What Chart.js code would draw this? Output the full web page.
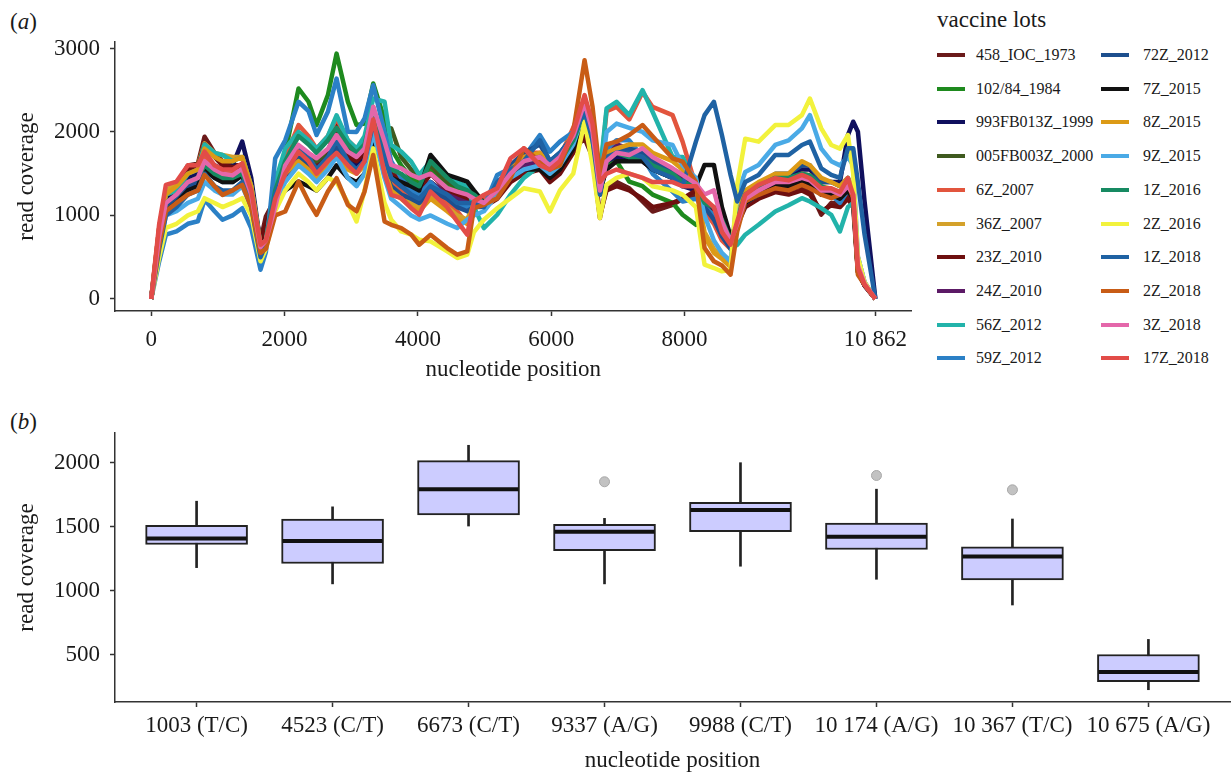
<!DOCTYPE html>
<html>
<head>
<meta charset="utf-8">
<script src="https://cdn.jsdelivr.net/npm/chart.js@4.4.1/dist/chart.umd.min.js"></script>
<style>
  body { margin: 0; width: 1231px; height: 776px; background: #fff; position: relative; overflow: hidden;
         font-family: 'Liberation Serif', 'Times New Roman', serif; color: #1a1a1a; }
  .tag { position: absolute; font-size: 23px; line-height: 23px; }
  #wrapA { position: absolute; left: 0; top: 0; width: 917px; height: 400px; }
  #wrapB { position: absolute; left: 0; top: 400px; width: 1231px; height: 376px; }
  #legTitle { position: absolute; left: 937px; top: 8px; font-size: 23px; line-height: 24px; }
  .item { position: absolute; height: 20px; font-size: 16px; line-height: 20px; white-space: nowrap; }
  .item i { position: absolute; left: 0; top: 8px; width: 28px; height: 4px; }
  .item span { position: absolute; top: 0; }
</style>
</head>
<body>
<div class="tag" style="left:10px; top:10px;">(<i>a</i>)</div>
<div class="tag" style="left:10px; top:410px;">(<i>b</i>)</div>
<div id="wrapA"><canvas id="chartA"></canvas></div>
<div id="legTitle">vaccine lots</div>
<div id="legend"></div>
<div id="wrapB"><canvas id="chartB"></canvas></div>
<script>
const positions = [0,120,220,380,550,700,800,950,1070,1220,
  1365,1500,1640,1720,1860,2010,2210,2360,2480,2650,
  2780,2950,3080,3200,3330,3500,3600,3750,3900,4020,
  4190,4440,4590,4740,4840,4990,5190,5390,5590,5830,
  5980,6130,6330,6500,6620,6730,6830,6980,7170,7370,
  7520,7820,7970,8170,8300,8440,8560,8690,8790,8910,
  9110,9360,9560,9760,9880,10050,10200,10330,10450,10530,
  10600,10700,10862];
const xTicksA = [0, 2000, 4000, 6000, 8000, 10862];
const yTicksA = [0, 1000, 2000, 3000];

const lot458 = [0,850,1300,1350,1600,1620,1943,1750,1650,1600,
  1600,1300,700,988,1200,1500,1800,1700,1600,1750,
  2100,1750,1700,1800,2200,1750,1500,1450,1400,1350,
  1550,1350,1300,1250,1250,1150,1250,1450,1550,1600,
  1450,1550,1800,1924,1700,968,1350,1400,1326,1167,
  1047,1127,1200,1250,1100,1000,800,650,900,1150,
  1250,1300,1300,1350,1300,1010,1150,1150,1250,1150,
  330,160,0];
const lot102 = [0,700,1150,1250,1450,1480,1650,1500,1450,1450,
  1550,1250,600,700,1350,1750,2521,2362,2083,2441,
  2939,2362,2083,2100,2581,2150,1800,1600,1450,1400,
  1550,1380,1300,1250,1200,1150,1350,1500,1600,1650,
  1500,1600,1900,2300,1900,1250,1600,1650,1406,1350,
  1250,1150,1008,888,1000,950,800,700,950,1200,
  1300,1400,1380,1450,1420,1300,1280,1250,1350,1300,
  400,180,0];
const lot993 = [0,750,1200,1300,1450,1500,1700,1600,1550,1600,
  1884,1450,650,700,1250,1550,1750,1650,1550,1700,
  1850,1650,1600,1700,2100,1650,1450,1400,1300,1250,
  1400,1250,1200,1150,1150,1100,1300,1500,1600,1700,
  1550,1650,1900,2200,1900,1250,1650,1700,1700,1650,
  1550,1450,1350,1300,1100,1000,800,600,900,1200,
  1300,1450,1450,1550,1550,1400,1400,1400,1963,2123,
  2003,1167,0];
const lot005 = [0,700,1100,1200,1400,1450,1650,1550,1500,1500,
  1550,1250,620,700,1200,1500,1800,1700,1650,1750,
  1950,1800,1750,1850,2250,1900,2043,1700,1550,1450,
  1600,1400,1350,1300,1250,1150,1300,1500,1600,1650,
  1550,1650,1900,2250,1950,1300,1650,1750,1700,1700,
  1600,1500,1400,1350,1150,1050,850,650,900,1150,
  1280,1380,1370,1420,1400,1280,1280,1230,1330,1230,
  350,170,0];
const lot6Z = [0,850,1300,1350,1550,1580,1700,1550,1500,1500,
  1580,1250,600,680,1400,1700,2083,1950,1800,1950,
  2162,1900,1800,1900,2300,1800,1400,1300,1200,1150,
  1300,1150,1050,900,1200,1200,1300,1600,1750,1750,
  1600,1700,2050,2400,2100,1450,2250,2300,2150,2480,
  2300,2202,1884,1350,1050,900,700,600,950,1200,
  1300,1400,1380,1450,1400,1300,1300,1250,1400,1250,
  350,170,0];
const lot36Z = [0,850,1300,1380,1550,1600,1864,1750,1724,1700,
  1700,1350,650,700,1250,1550,1700,1600,1500,1650,
  1800,1600,1550,1650,2050,1600,1350,1250,1150,1100,
  1250,1100,1000,950,1150,1150,1300,1550,1700,1700,
  1550,1650,1950,2300,2000,1350,1700,1750,1750,1750,
  1650,1550,1500,1350,800,600,500,400,880,1200,
  1300,1420,1420,1500,1480,1350,1320,1280,1380,1250,
  320,170,0];
const lot23Z = [0,800,1250,1300,1550,1580,1850,1700,1600,1580,
  1580,1280,680,900,1150,1450,1750,1650,1550,1700,
  2000,1700,1650,1750,2150,1700,1480,1420,1350,1300,
  1500,1300,1250,1200,1200,1100,1200,1400,1500,1550,
  1400,1500,1750,1950,1750,1000,1300,1350,1300,1200,
  1100,1150,1200,1300,1150,1050,820,680,880,1100,
  1200,1280,1250,1300,1250,1050,1120,1100,1200,1100,
  320,160,0];
const lot24Z = [0,700,1100,1200,1350,1400,1600,1500,1450,1450,
  1500,1200,600,680,1150,1450,1700,1600,1500,1650,
  1800,1600,1550,1650,2050,1650,1450,1350,1300,1250,
  1400,1250,1200,1150,1150,1100,1250,1450,1600,1650,
  1550,1650,1900,2250,1950,1300,1700,1850,1800,1750,
  1650,1550,1450,1400,1167,1087,850,650,880,1150,
  1250,1350,1330,1400,1380,1250,1250,1200,1300,1200,
  330,160,0];
const lot56Z = [0,800,1250,1300,1500,1550,1850,1750,1724,1650,
  1700,1350,650,700,1400,1800,2000,1900,1800,1950,
  2200,1900,1800,1950,2400,2362,1844,1764,1645,1485,
  1650,1485,1400,1350,1100,848,1008,1250,1450,1600,
  1500,1650,1900,2300,2000,1500,2282,2362,2202,2501,
  2242,1700,1700,1350,1100,1000,800,600,649,769,
  888,1047,1123,1207,1167,1087,1008,808,1100,1150,
  400,180,0];
const lot59Z = [0,450,770,810,900,930,1187,1050,948,1000,
  1087,850,350,560,1684,1900,2362,2250,1963,2242,
  2640,2003,2000,2162,2560,2000,1650,1450,1300,1250,
  1400,1200,1150,1100,1150,1100,1485,1565,1700,1963,
  1764,1884,2000,2162,1900,1300,1800,1900,1900,1700,
  1500,1286,1167,1200,1100,1000,750,700,900,1150,
  1250,1350,1350,1400,1400,1300,1250,1150,1300,1250,
  500,200,0];
const lot72Z = [0,700,1100,1200,1350,1400,1550,1450,1400,1400,
  1480,1150,550,650,1200,1500,1700,1600,1500,1650,
  1800,1600,1550,1650,2000,1550,1350,1250,1200,1150,
  1300,1200,1100,1050,1100,1100,1350,1600,1750,1850,
  1650,1750,1950,2200,1900,1250,1700,1800,1800,1750,
  1650,1500,1400,1350,1100,950,750,600,900,1200,
  1350,1500,1500,1600,1600,1400,1400,1350,1450,1300,
  380,180,0];
const lot7Z = [0,650,1050,1150,1300,1350,1550,1450,1400,1400,
  1480,1200,580,650,1150,1300,1406,1350,1300,1450,
  1600,1450,1400,1500,1900,1550,1450,1400,1350,1300,
  1724,1485,1446,1406,1300,1150,1250,1450,1550,1550,
  1450,1550,1800,2200,1900,1300,1550,1650,1650,1650,
  1550,1450,1400,1350,1605,1605,1100,750,900,1150,
  1250,1350,1350,1400,1380,1250,1250,1200,1300,1200,
  350,170,0];
const lot8Z = [0,820,1250,1350,1500,1550,1800,1700,1650,1650,
  1700,1350,640,700,1200,1500,1650,1550,1450,1600,
  1700,1550,1500,1600,2000,1550,1300,1200,1100,1050,
  1200,1050,950,900,1150,1150,1300,1550,1700,1750,
  1600,1700,2000,2350,2050,1400,1750,1800,1850,1850,
  1750,1650,1550,1380,750,550,480,380,1000,1300,
  1400,1500,1500,1650,1600,1450,1400,1350,1450,1300,
  330,170,0];
const lot9Z = [0,600,1000,1050,1150,1200,1400,1300,1250,1250,
  1350,1100,550,620,1150,1400,1600,1500,1400,1550,
  1700,1450,1350,1500,2000,1450,1200,1100,1000,950,
  1000,900,850,950,1000,1050,1250,1450,1550,1600,
  1500,1600,1850,2250,1900,1350,2000,2100,2050,2000,
  1900,1844,1600,1450,1000,700,550,450,1250,1521,
  1605,1844,1900,2043,2202,1800,1650,1600,1700,1600,
  500,200,0];
const lot1Z16 = [0,750,1150,1250,1400,1450,1600,1500,1450,1450,
  1500,1200,600,680,1300,1650,1950,1850,1750,1900,
  2050,1850,1750,1850,2250,1800,1550,1500,1400,1350,
  1650,1450,1350,1300,1250,1150,1300,1500,1650,1700,
  1550,1650,1900,2250,1950,1300,1650,1750,1700,1700,
  1600,1500,1400,1350,1150,1100,950,700,950,1250,
  1350,1450,1450,1500,1480,1350,1300,1250,1380,1250,
  340,170,0];
const lot2Z16 = [0,500,850,900,1000,1050,1207,1150,1100,1150,
  1207,1000,450,600,1050,1300,1500,1400,1300,1450,
  1400,1150,928,1300,1804,1150,950,808,769,709,
  689,570,490,530,800,950,1087,1207,1326,1286,
  1047,1300,1500,2123,1600,968,1366,1450,1500,1450,
  1350,1300,1250,1100,410,370,330,350,1366,1920,
  1884,2083,2083,2202,2401,2043,1844,1800,1963,1500,
  500,200,0];
const lot1Z18 = [0,600,1000,1100,1250,1300,1500,1350,1300,1300,
  1400,1100,500,650,1250,1550,1800,1700,1550,1700,
  1900,1650,1550,1650,2100,1700,1450,1350,1250,1200,
  1350,1250,1150,1150,1150,1100,1400,1550,1650,1900,
  1650,1750,1950,2250,1900,1250,1700,1750,1750,1700,
  1550,1450,1350,1884,2202,2362,1963,1485,1167,1400,
  1485,1724,1724,1844,1884,1565,1485,1450,1804,1804,
  1400,769,0];
const lot2Z18 = [0,650,1050,1150,1250,1300,1485,1350,1246,1300,
  1366,1100,550,600,1000,1047,1406,1167,1008,1286,
  1446,1127,1050,1286,1724,928,888,848,769,649,
  769,609,530,570,1087,1127,1207,1450,1804,1650,
  1550,1600,2000,2860,2300,1500,1850,1884,1963,2083,
  1950,1685,1645,1400,609,450,400,290,809,1167,
  1247,1326,1300,1366,1326,1250,1207,1250,1400,1200,
  290,171,0];
const lot3Z = [0,750,1150,1250,1400,1450,1650,1550,1500,1480,
  1560,1250,620,700,1100,1600,1844,1750,1685,1800,
  1963,1764,1700,1800,2302,1884,1605,1565,1485,1446,
  1500,1326,1286,1250,1200,1150,1300,1500,1650,1700,
  1600,1700,1950,2350,2000,1300,1650,1750,1724,1804,
  1700,1565,1485,1380,1250,1300,928,689,900,1200,
  1300,1400,1400,1450,1420,1300,1300,1250,1350,1250,
  400,180,0];
const lot17Z = [0,900,1366,1406,1600,1600,1764,1600,1550,1550,
  1625,1300,650,700,1200,1500,1764,1650,1500,1650,
  1750,1600,1500,1650,2150,1500,1246,1207,1087,1008,
  1286,1100,928,769,1167,1246,1326,1685,1804,1600,
  1550,1650,2000,2441,2100,1400,1500,1550,1500,1450,
  1400,1400,1350,1350,1200,1100,800,650,928,1247,
  1366,1446,1420,1485,1446,1326,1326,1280,1446,1246,
  370,171,0];

const lotNames = ['458_IOC_1973','102/84_1984','993FB013Z_1999','005FB003Z_2000','6Z_2007',
  '36Z_2007','23Z_2010','24Z_2010','56Z_2012','59Z_2012',
  '72Z_2012','7Z_2015','8Z_2015','9Z_2015','1Z_2016',
  '2Z_2016','1Z_2018','2Z_2018','3Z_2018','17Z_2018'];
const lotCoverage = [lot458, lot102, lot993, lot005, lot6Z, lot36Z, lot23Z, lot24Z, lot56Z, lot59Z,
  lot72Z, lot7Z, lot8Z, lot9Z, lot1Z16, lot2Z16, lot1Z18, lot2Z18, lot3Z, lot17Z];
const lotColors = ['#6b1a1a','#1e8a1e','#10105e','#3f5a1f','#e2553d',
  '#d4a12a','#6e0f0f','#5c1a66','#22b3aa','#2b80c6',
  '#1d4f8e','#111111','#dc9a16','#4aaae6','#178a62',
  '#f2f23c','#1f62a3','#c85c16','#e467aa','#e24c48'];

// panel (b) box plot summaries
const sites = ['1003 (T/C)','4523 (C/T)','6673 (C/T)','9337 (A/G)','9988 (C/T)','10 174 (A/G)','10 367 (T/C)','10 675 (A/G)'];
const whiskerLow  = [1180, 1053, 1505, 1053, 1191, 1089,  888, 226];
const boxLow      = [1361, 1212, 1592, 1312, 1461, 1322, 1084, 289];
const medians     = [1408, 1388, 1793, 1461, 1631, 1421, 1267, 364];
const boxHigh     = [1510, 1560, 2016, 1518, 1691, 1529, 1343, 501];
const whiskerHigh = [1699, 1655, 2136, 1565, 2000, 1793, 1560, 619];
const outlierSite  = [3, 5, 6];
const outlierValue = [1851, 1900, 1788];
const yTicksB = [500, 1000, 1500, 2000];

Chart.defaults.font.family = "'Liberation Serif', 'Times New Roman', serif";
Chart.defaults.color = '#1a1a1a';

// legend, two columns like the original
const legend = document.getElementById('legend');
lotNames.forEach((name, i) => {
    const col = Math.floor(i / 10), row = i % 10;
    const el = document.createElement('div');
    el.className = 'item';
    el.style.left = (col ? 1101 : 937) + 'px';
    el.style.top = (55 + row * 33.7 - 10) + 'px';
    el.innerHTML = '<i style="background:' + lotColors[i] + '"></i><span style="left:' + (col ? 42 : 39) + 'px">' + name + '</span>';
    legend.appendChild(el);
});

function axisStyle() {
    return {
        grid: { display: true, offset: false, drawOnChartArea: false, drawTicks: true, tickLength: 5, tickColor: '#333', tickWidth: 1.5 },
        border: { display: true, color: '#333', width: 1.5 }
    };
}

new Chart(document.getElementById('chartA'), {
    type: 'line',
    data: {
        datasets: lotNames.map((name, i) => ({
            label: name,
            data: positions.map((p, j) => ({ x: p, y: lotCoverage[i][j] })),
            borderColor: lotColors[i],
            borderWidth: 4.5,
            borderJoinStyle: 'round',
            pointRadius: 0,
            tension: 0,
            order: lotNames.length - i
        }))
    },
    options: {
        responsive: true,
        maintainAspectRatio: false,
        animation: false,
        layout: { autoPadding: false, padding: { top: 42, left: 0, right: 0, bottom: 0 } },
        plugins: { legend: { display: false }, tooltip: { enabled: false } },
        scales: {
            x: Object.assign(axisStyle(), {
                type: 'linear', min: -543, max: 11405,
                afterBuildTicks: s => { s.ticks = xTicksA.map(v => ({ value: v })); },
                afterFit: s => { s.height = 89; },
                ticks: { padding: 10, font: { size: 23 }, maxRotation: 0, autoSkip: false,
                         callback: v => v === 10862 ? '10 862' : String(v) },
                title: { display: true, text: 'nucleotide position', font: { size: 23 }, padding: { top: 0, bottom: 16 } }
            }),
            y: Object.assign(axisStyle(), {
                min: -145, max: 3078,
                afterBuildTicks: s => { s.ticks = yTicksA.map(v => ({ value: v })); },
                afterFit: s => { s.width = 115; },
                ticks: { padding: 10, font: { size: 23 }, callback: v => String(v) },
                title: { display: true, text: 'read coverage', font: { size: 23 }, padding: { top: 13, bottom: 0 } }
            })
        }
    }
});

new Chart(document.getElementById('chartB'), {
    type: 'bar',
    data: {
        datasets: [
            { type: 'bar', data: sites.map((s, i) => ({ x: i, y: [whiskerLow[i], whiskerHigh[i]] })),
              backgroundColor: '#222', barThickness: 2, grouped: false, order: 3 },
            { type: 'bar', data: sites.map((s, i) => ({ x: i, y: [boxLow[i], boxHigh[i]] })),
              backgroundColor: '#ccccff', borderColor: '#222', borderWidth: 2, borderSkipped: false,
              barThickness: 102, grouped: false, order: 2 },
            { type: 'line', data: sites.map((s, i) => ({ x: i, y: medians[i] })), showLine: false,
              pointStyle: 'line', pointRadius: 50, pointBorderWidth: 4, pointBorderColor: '#111', order: 1 },
            { type: 'line', data: outlierSite.map((s, k) => ({ x: s, y: outlierValue[k] })), showLine: false,
              pointRadius: 5, pointBackgroundColor: '#c2c2c2', pointBorderColor: '#a8a8a8', pointBorderWidth: 1, order: 0 }
        ]
    },
    options: {
        responsive: true,
        maintainAspectRatio: false,
        animation: false,
        layout: { autoPadding: false, padding: { top: 33, left: 0, right: 1, bottom: 0 } },
        plugins: { legend: { display: false }, tooltip: { enabled: false } },
        scales: {
            x: Object.assign(axisStyle(), {
                type: 'linear', min: -0.6, max: 7.6, offset: false,
                afterBuildTicks: s => { s.ticks = sites.map((v, i) => ({ value: i })); },
                afterFit: s => { s.height = 74; },
                ticks: { padding: 5, font: { size: 23 }, maxRotation: 0, autoSkip: false,
                         callback: v => sites[v] },
                title: { display: true, text: 'nucleotide position', font: { size: 23 }, padding: { top: 0, bottom: 1 } }
            }),
            y: Object.assign(axisStyle(), {
                min: 130, max: 2232,
                afterBuildTicks: s => { s.ticks = yTicksB.map(v => ({ value: v })); },
                afterFit: s => { s.width = 115; },
                ticks: { padding: 10, font: { size: 23 }, callback: v => String(v) },
                title: { display: true, text: 'read coverage', font: { size: 23 }, padding: { top: 13, bottom: 0 } }
            })
        }
    }
});
</script>
</body>
</html>
